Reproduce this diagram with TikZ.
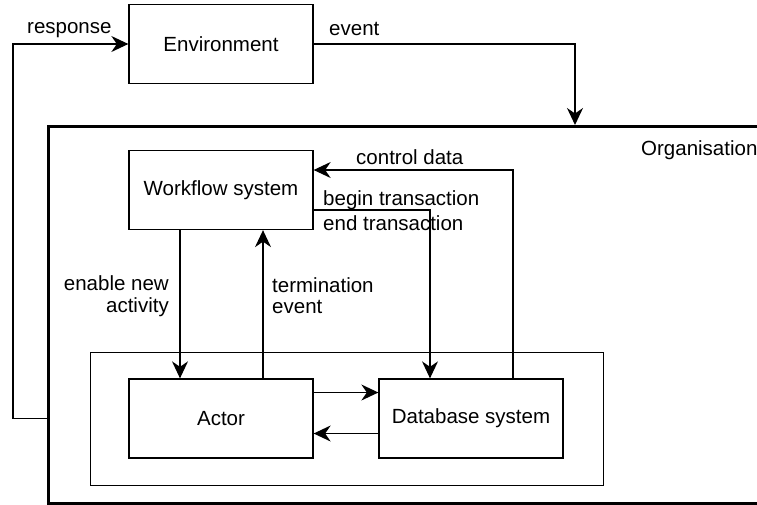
\documentclass[tikz,border=0pt]{standalone}
\usepackage{fontspec}
\setmainfont{Liberation Sans}
\usetikzlibrary{arrows.meta}
\begin{document}
\begin{tikzpicture}[x=1pt,y=-1pt,
  font=\fontsize{20.5}{22}\selectfont,
  thin line/.style={line width=1.3pt},
  block/.style={draw, thin line, minimum width=184pt, minimum height=79pt, inner sep=0pt},
  arr/.style={thin line, -{Stealth[length=17pt,width=16pt,inset=5.5pt]}},
  lbl/.style={inner sep=0pt}
]
\useasboundingbox (0,0) rectangle (757,504);
\clip (0,0) rectangle (757,504);

% outer organisation frame (runs past the right edge)
\node[draw, line width=3pt, anchor=north west, minimum width=760pt, minimum height=377pt, inner sep=0pt] (org) at (47,125) {};
\node[lbl, anchor=base west] (orglbl) at (641,155) {Organisation};

% inner frame around actor and database
\node[draw, thin line, anchor=north west, minimum width=513pt, minimum height=133pt, inner sep=0pt] (team) at (90,352) {};

% blocks
\node[block] (env) at (221,44) {Environment};
\node[block] (wf) at (221,190) {Workflow system};
\node[block] (actor) at (221,418.5) {Actor};
\node[block] (db) at (471,418.5) {Database system};

\coordinate (evtin) at (575,125);

% connectors
\draw[arr] (env.east) -| (evtin);
\draw[arr] (actor -| org.west) -- ++(-34,0) |- (env.west);
\draw[arr] ([xshift=42pt]db.north) |- ([yshift=20pt]wf.east);
\draw[arr] ([yshift=-20pt]wf.east) -| ([xshift=-41pt]db.north);
\draw[arr] ([xshift=-41pt]wf.south) -- ([xshift=-41pt]actor.north);
\draw[arr] ([xshift=42pt]actor.north) -- ([xshift=42pt]wf.south);
\draw[arr] ([yshift=26pt]actor.east) -- ([yshift=26pt]db.west);
\draw[arr] ([yshift=-15pt]db.west) -- ([yshift=-15pt]actor.east);

% connector labels
\node[lbl, anchor=base west] (resp) at (27,33) {response};
\node[lbl, anchor=base west] (evt) at (329,35) {event};
\node[lbl, anchor=base west] (ctl) at (356,164) {control data};
\node[lbl, anchor=base west] (begt) at (323,205) {begin transaction};
\node[lbl, anchor=base west] (endt) at (323,230) {end transaction};
\node[lbl, anchor=base east] (en1) at (169,290) {enable new};
\node[lbl, anchor=base east] (en2) at (169,312) {activity};
\node[lbl, anchor=base west] (te1) at (272,292) {termination};
\node[lbl, anchor=base west] (te2) at (272,313) {event};
\end{tikzpicture}
\end{document}
